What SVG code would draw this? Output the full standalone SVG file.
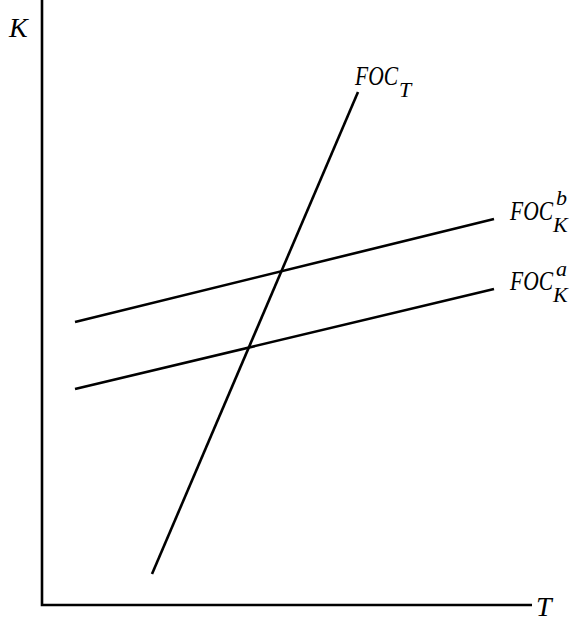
<svg xmlns="http://www.w3.org/2000/svg" width="579" height="621" viewBox="0 0 579 621">
<style>
.ln{stroke:#000;stroke-width:2.6;fill:none;stroke-linecap:butt}
.t{font-family:"Liberation Serif","DejaVu Serif",serif;font-style:italic;font-size:28px;fill:#000}
.s{font-size:22px}
</style>
<rect width="579" height="621" fill="#fff"/>
<g id="axes">
<path class="ln" d="M42,0 V605 H532"/>
<text class="t" x="9" y="37">K</text>
<text class="t" x="536" y="616">T</text>
</g>
<g id="connectors">
<line class="ln" x1="152" y1="574" x2="358" y2="92"/>
<line class="ln" x1="75" y1="322" x2="494" y2="219"/>
<line class="ln" x1="75" y1="389" x2="494" y2="289"/>
</g>
<g id="label-FOCT">
<text class="t" x="355" y="85"><tspan textLength="43" lengthAdjust="spacingAndGlyphs">FOC</tspan><tspan class="s" x="399" y="97">T</tspan></text>
</g>
<g id="label-FOCKb">
<text class="t" x="510" y="220"><tspan textLength="43" lengthAdjust="spacingAndGlyphs">FOC</tspan><tspan class="s" x="556" y="205">b</tspan><tspan class="s" x="553" y="232">K</tspan></text>
</g>
<g id="label-FOCKa">
<text class="t" x="510" y="290"><tspan textLength="43" lengthAdjust="spacingAndGlyphs">FOC</tspan><tspan class="s" x="556" y="276">a</tspan><tspan class="s" x="553" y="302">K</tspan></text>
</g>
</svg>
